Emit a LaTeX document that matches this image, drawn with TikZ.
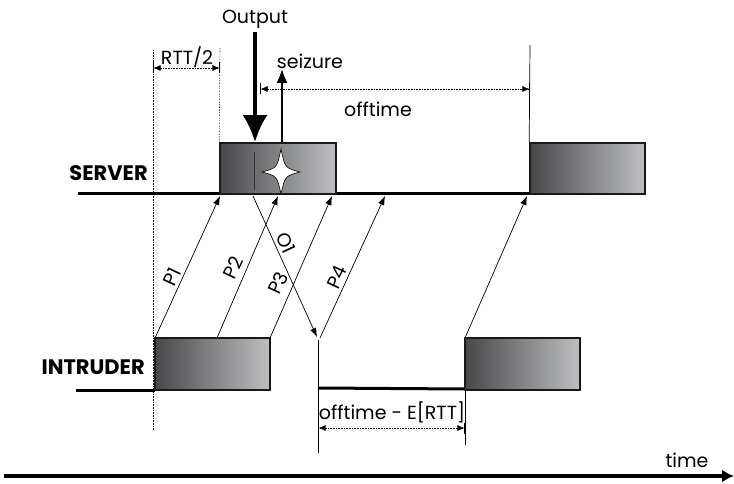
\documentclass[tikz,border=0pt]{standalone}
\usepackage{fontspec}
\setmainfont{Poppins}
\usetikzlibrary{arrows.meta,positioning}
\definecolor{pulsedark}{HTML}{48484A}
\definecolor{pulselight}{HTML}{BEBFC1}
\tikzset{pulse/.style={draw=black!90,line width=1.6pt,left color=pulsedark,right color=pulselight,minimum width=116pt,minimum height=51pt,inner sep=0pt},arrow/.style={-{Latex[length=9pt,width=6.5pt]},line width=0.7pt},bigarrow/.style={-{Latex[length=27pt,width=25pt]},line width=4pt},dim/.style={{Bar[width=11pt]Latex[length=7pt,width=6pt]}-{Latex[length=7pt,width=6pt]Bar[width=11pt]},densely dotted,line width=0.6pt},guide/.style={densely dotted,line width=0.6pt},lab/.style={font=\fontsize{19}{22}\selectfont,inner sep=1pt},actor/.style={font=\bfseries\fontsize{21}{24}\selectfont,anchor=east,inner sep=0pt},level/.style={line width=3pt}}

\begin{document}
\begin{tikzpicture}[x=1pt,y=-1pt]
\useasboundingbox (0,0) rectangle (734,484);
% levels of server and intruder
\draw[level] (78,194) -- (530,194);
\draw[level] (76,390) -- (155,390);
\draw[level] (318,388) -- (465,389);
\node[pulse] (s1) at (278,168.5) {};
\node[pulse,minimum width=115pt] (s2) at (587.5,168.5) {};
\node[pulse,minimum width=115pt,minimum height=52pt] (i1) at (212.5,364) {};
\node[pulse,minimum width=115pt,minimum height=52pt] (i2) at (522.5,364) {};
\node[actor] (server) at (148,173) {SERVER};
\node[actor] (intruder) at (145,367) {INTRUDER};
\draw[black!80,line width=0.8pt] (254,152) -- (254,190);
\draw[fill=white,line width=0.6pt] (281,149) .. controls (285,168) .. (300,172) .. controls (285,176) .. (281,194) .. controls (277,176) .. (262,172) .. controls (277,168) .. (281,149) -- cycle;
% packets
\foreach \n/\xa/\xb in {1/155/220,2/217/278,3/270/332,4/320/385,5/465/527}{\coordinate (tx\n) at (\xa,338);\coordinate (rx\n) at (\xb,196);\draw[arrow] (tx\n) -- (rx\n);}
\foreach \n/\x/\y in {1/172/277,2/233/268,3/278/283,4/337/277}{\node[lab,rotate=65] (lp\n) at (\x,\y) {P\n};}
\coordinate (oa) at (253,196);
\coordinate (ob) at (317,337);
\draw[arrow] (oa) -- (ob);
\node[lab,rotate=-65] (lo) at (286,243) {O1};
% output and seizure
\node[lab] (out) at (255,19) {Output};
\draw[bigarrow] (255,32) -- (s1.north -| out);
\node[lab] (seiz) at (310,61) {seizure};
\coordinate (sz) at (282,69);
\draw[-{Latex[length=14pt,width=11pt]},line width=1.4pt] (s1.north -| sz) -- (sz);
% RTT/2 and offtime
\coordinate (g0) at (153,50);
\coordinate (g1) at (153,430);
\coordinate (g2) at (220,48);
\draw[guide] (g0) -- (g1);
\draw[guide] (g2) -- (s1.north west);
\coordinate (r0) at (153,68);
\coordinate (r1) at (220,68);
\draw[dim] (r0) -- (r1);
\node[lab] (rtt) at (187,57) {RTT/2};
\coordinate (v0) at (530,45);
\draw[line width=0.7pt] (v0) -- (s2.north west);
\coordinate (o0) at (260,89);
\coordinate (o1) at (530,89);
\draw[dim] (o0) -- (o1);
\node[lab] (off) at (378,109) {offtime};
% intruder waiting time
\coordinate (w0) at (318,340);
\coordinate (w1) at (318,453);
\coordinate (w2) at (465,390);
\coordinate (w3) at (465,445);
\draw[line width=0.7pt] (w0) -- (w1);
\draw[line width=0.7pt] (w2) -- (w3);
\coordinate (e0) at (318,428);
\coordinate (e1) at (465,428);
\draw[dim] (e0) -- (e1);
\node[lab] (offe) at (392,412) {offtime - E[RTT]};
% time axis
\coordinate (t0) at (4,476);
\coordinate (t1) at (734,476);
\draw[line width=3.5pt,-{Latex[length=12pt,width=13pt]}] (t0) -- (t1);
\node[lab] (time) at (687,460) {time};
\end{tikzpicture}
\end{document}
